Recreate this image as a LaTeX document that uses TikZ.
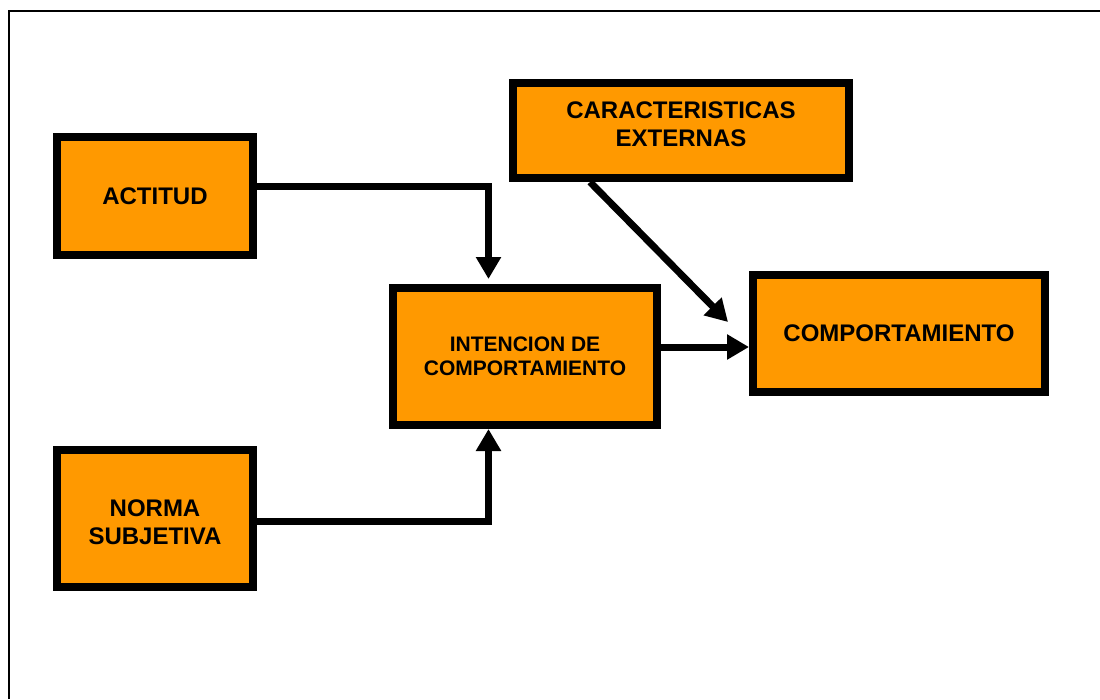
\documentclass[tikz,border=0pt]{standalone}
\usepackage{fontspec}
\setmainfont{Liberation Sans}
\usetikzlibrary{arrows.meta}
\definecolor{boxorange}{HTML}{FF9900}
\tikzset{
  box/.style={draw=black, line width=8pt, fill=boxorange, inner sep=0pt, align=center,
    font=\fontsize{24}{28}\selectfont\bfseries},
  lbl/.style={align=center, inner sep=0pt, font=\fontsize{24}{28}\selectfont\bfseries},
  arr/.style={line width=7pt, -{Triangle[width=24pt,length=22pt]}},
  frame/.style={line width=2.5pt}
}
\begin{document}
\begin{tikzpicture}[x=1pt,y=-1pt]
\useasboundingbox (0,0) rectangle (1100,699);
\draw[frame] (9,699) -- (9,11) -- (1100,11);

\node[box, minimum width=196pt, minimum height=118pt] (act) at (155,196) {ACTITUD};
\node[box, minimum width=196pt, minimum height=137pt,
  label={[lbl,yshift=-3.5pt]center:NORMA\\SUBJETIVA}] (norma) at (155,518.5) {};
\node[box, minimum width=264pt, minimum height=137pt,
  font=\fontsize{21}{24.5}\selectfont\bfseries] (int) at (525,356.5) {INTENCION DE\\COMPORTAMIENTO};
\node[box, minimum width=336pt, minimum height=95pt,
  label={[lbl,yshift=6pt]center:CARACTERISTICAS\\EXTERNAS}] (car) at (681,130.5) {};
\node[box, minimum width=292pt, minimum height=117pt] (comp) at (899,333.5) {COMPORTAMIENTO};

\coordinate (dtip) at (728,322);

\draw[arr, shorten >=5pt] (act.east |- 0,186) -| (488.5,0 |- int.north);
\draw[arr] (norma.east |- 0,521) -| (488.5,0 |- int.south);
\draw[arr] (int.east |- 0,347) -- (comp.west |- 0,347);
\draw[arr] (590,0 |- car.south) -- (dtip);
\end{tikzpicture}
\end{document}
